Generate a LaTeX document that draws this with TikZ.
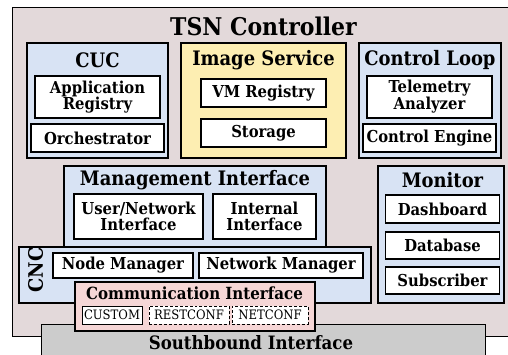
\documentclass[tikz,border=0pt]{standalone}
\usepackage{fontspec}
\setmainfont{DejaVu Serif Condensed}
\usepackage{tikz}
\definecolor{ctrlbg}{RGB}{227,217,218}
\definecolor{groupblue}{RGB}{216,227,244}
\definecolor{groupyellow}{RGB}{253,238,178}
\definecolor{commpink}{RGB}{245,214,214}
\definecolor{sbgray}{RGB}{204,204,204}
\tikzstyle{box}=[draw, inner sep=0, outer sep=0, align=center]
\tikzstyle{group}=[box, line width=1.6pt, fill=groupblue]
\tikzstyle{item}=[box, line width=1.3pt, fill=white, font=\fontsize{16.5}{16}\selectfont\bfseries]
\tikzstyle{proto}=[box, line width=1pt, fill=white, font=\fontsize{13}{13}\selectfont]
\tikzstyle{dproto}=[proto, dash pattern=on 3pt off 2pt]
\tikzstyle{grouptitle}=[inner sep=0, font=\fontsize{20}{20}\selectfont\bfseries]
\begin{document}
\begin{tikzpicture}[x=1bp, y=-1bp]
    \clip (0, 0) rectangle (508, 354);
    % Controller frame and its title
    \node[box, line width=0.8pt, fill=ctrlbg, minimum width=518bp, minimum height=329bp] (ctrl) at (271, 171.5) {};
    \node[inner sep=0, font=\fontsize{24.5}{24.5}\selectfont\bfseries] (ctrltitle) at (263.5, 26) {TSN Controller};
    % CUC
    \node[group, minimum width=141bp, minimum height=115bp] (cuc) at (97.5, 100.5) {};
    \node[grouptitle] (cuctitle) at (97.5, 60) {CUC};
    \node[item, minimum width=125bp, minimum height=42bp] (appreg) at (97.5, 97) {Application\\Registry};
    \node[item, minimum width=133bp, minimum height=28bp] (orch) at (97.5, 138) {Orchestrator};
    % Image service
    \node[group, fill=groupyellow, minimum width=165bp, minimum height=115bp] (imgsvc) at (263.5, 100.5) {};
    \node[grouptitle] (imgsvctitle) at (263.5, 60) {Image Service};
    \node[item, minimum width=125bp, minimum height=28bp] (vmreg) at (263.5, 93) {VM Registry};
    \node[item, minimum width=125bp, minimum height=28bp] (storage) at (263.5, 133) {Storage};
    % Control loop
    \node[group, minimum width=142bp, minimum height=115bp] (loop) at (430, 100.5) {};
    \node[grouptitle] (looptitle) at (430, 60) {Control Loop};
    \node[item, minimum width=125bp, minimum height=42bp] (telemetry) at (429.5, 97) {Telemetry\\Analyzer};
    \node[item, minimum width=133bp, minimum height=28bp] (engine) at (429.5, 138) {Control Engine};
    % Management interface
    \node[group, minimum width=262bp, minimum height=84bp] (mgmt) at (195, 208) {};
    \node[grouptitle] (mgmttitle) at (195, 180) {Management Interface};
    \node[item, minimum width=129bp, minimum height=45bp] (usernet) at (138.5, 216.5) {User/Network\\Interface};
    \node[item, minimum width=103bp, minimum height=45bp] (internal) at (264.5, 216.5) {Internal\\Interface};
    % Monitor
    \node[group, minimum width=126bp, minimum height=137bp] (monitor) at (441, 234.5) {};
    \node[grouptitle] (monitortitle) at (442.5, 180) {Monitor};
    \node[item, minimum width=114bp, minimum height=28bp] (dashboard) at (442.5, 209) {Dashboard};
    \node[item, minimum width=114bp, minimum height=27bp] (database) at (442.5, 245.5) {Database};
    \node[item, minimum width=114bp, minimum height=27bp] (subscriber) at (442.5, 280.5) {Subscriber};
    % Southbound interface, below the controller
    \node[box, line width=1pt, fill=sbgray, minimum width=444bp, minimum height=46bp] (south) at (263, 347) {};
    \node[inner sep=0, font=\fontsize{18.5}{18.5}\selectfont\bfseries] (southtitle) at (251, 343) {Southbound Interface};
    % CNC
    \node[group, minimum width=352bp, minimum height=56bp] (cnc) at (195, 275) {};
    \node[grouptitle, rotate=90] (cnctitle) at (35.5, 270) {CNC};
    \node[item, minimum width=140bp, minimum height=25bp] (nodemgr) at (123, 265.5) {Node Manager};
    \node[item, minimum width=164bp, minimum height=25bp] (netmgr) at (281, 265.5) {Network Manager};
    % Communication interface with its protocols
    \node[box, line width=1.3pt, fill=commpink, minimum width=240bp, minimum height=49bp] (comm) at (195, 306.5) {};
    \node[inner sep=0, font=\fontsize{16.8}{16.8}\selectfont\bfseries] (commtitle) at (194.5, 293) {Communication Interface};
    \node[proto, minimum width=60bp, minimum height=18bp] (custom) at (112, 315) {CUSTOM};
    \node[dproto, minimum width=80bp, minimum height=18bp] (restconf) at (189, 315) {RESTCONF};
    \node[dproto, minimum width=76bp, minimum height=18bp] (netconf) at (270, 315) {NETCONF};
\end{tikzpicture}
\end{document}
